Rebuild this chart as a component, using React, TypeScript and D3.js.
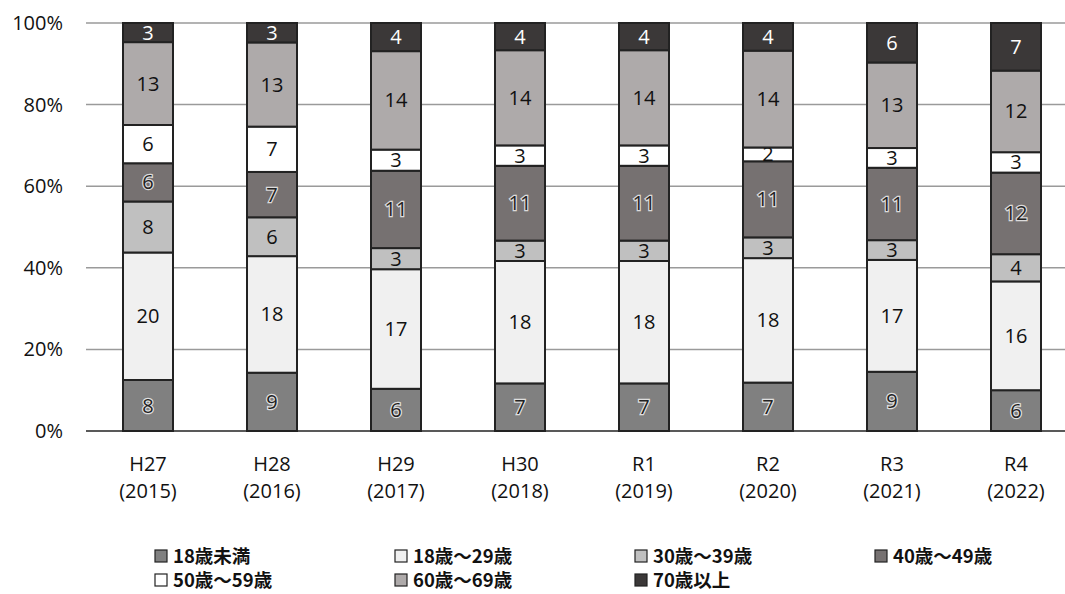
import * as d3 from 'd3';
import { useEffect, useRef } from 'react';

const eras = ['H27', 'H28', 'H29', 'H30', 'R1', 'R2', 'R3', 'R4'];
const years = ['(2015)', '(2016)', '(2017)', '(2018)', '(2019)', '(2020)', '(2021)', '(2022)'];

const groups = ['18歳未満', '18歳～29歳', '30歳～39歳', '40歳～49歳', '50歳～59歳', '60歳～69歳', '70歳以上'];
const under18 = [8, 9, 6, 7, 7, 7, 9, 6];
const age18to29 = [20, 18, 17, 18, 18, 18, 17, 16];
const age30s = [8, 6, 3, 3, 3, 3, 3, 4];
const age40s = [6, 7, 11, 11, 11, 11, 11, 12];
const age50s = [6, 7, 3, 3, 3, 2, 3, 3];
const age60s = [13, 13, 14, 14, 14, 14, 13, 12];
const over70 = [3, 3, 4, 4, 4, 4, 6, 7];

const fills = ['#808080', '#f0f0f0', '#c0c0c0', '#767171', '#ffffff', '#aeaaaa', '#3b3838'];
const labelColors = ['#222', '#111', '#111', '#222', '#111', '#111', '#ffffff'];
const haloed = [true, false, false, true, false, false, false];
const yTicks = [0, 0.2, 0.4, 0.6, 0.8, 1];

const FONT = '"Open Sans", "Noto Sans CJK JP", sans-serif';
const FS = 20;

export default function App() {
  const ref = useRef<SVGSVGElement>(null);

  useEffect(() => {
    const svg = d3.select(ref.current);
    svg.selectAll('*').remove();

    const series = [under18, age18to29, age30s, age40s, age50s, age60s, over70];
    const rows = eras.map((era, i) => {
      const row: any = { era };
      groups.forEach((g, k) => (row[g] = series[k][i]));
      return row;
    });

    const stack = d3.stack<any>().keys(groups).offset(d3.stackOffsetExpand);
    const layers = stack(rows);

    const x = d3.scaleBand().domain(eras).range([86, 1078]).paddingInner(0.6).paddingOuter(0.3);
    const y = d3.scaleLinear().domain([0, 1]).range([431, 23]);

    // gridlines
    svg.append('g')
      .selectAll('line')
      .data(yTicks)
      .enter()
      .append('line')
      .attr('x1', 86)
      .attr('x2', 1065)
      .attr('y1', (d) => y(d))
      .attr('y2', (d) => y(d))
      .attr('stroke', (d) => (d === 0 ? '#222' : '#9a9a9a'))
      .attr('stroke-width', 1.5);

    svg.append('g')
      .selectAll('text')
      .data(yTicks)
      .enter()
      .append('text')
      .attr('x', 63)
      .attr('y', (d) => y(d) + 7)
      .attr('text-anchor', 'end')
      .attr('font-family', FONT)
      .attr('font-size', FS)
      .attr('fill', '#111')
      .text((d) => `${Math.round(d * 100)}%`);

    const bw = 50;
    layers.forEach((layer, k) => {
      const g = svg.append('g');
      g.selectAll('rect')
        .data(layer)
        .enter()
        .append('rect')
        .attr('x', (d: any) => (x(d.data.era) || 0) + x.bandwidth() / 2 - bw / 2)
        .attr('y', (d) => y(d[1]))
        .attr('width', bw)
        .attr('height', (d) => y(d[0]) - y(d[1]))
        .attr('fill', fills[k])
        .attr('stroke', '#222')
        .attr('stroke-width', 2);

      g.selectAll('text')
        .data(layer)
        .enter()
        .append('text')
        .attr('x', (d: any) => (x(d.data.era) || 0) + x.bandwidth() / 2)
        .attr('y', (d) => (y(d[0]) + y(d[1])) / 2 + 7)
        .attr('text-anchor', 'middle')
        .attr('font-family', FONT)
        .attr('font-size', FS)
        .attr('fill', labelColors[k])
        .attr('stroke', haloed[k] ? 'rgba(255,255,255,0.75)' : 'none')
        .attr('stroke-width', haloed[k] ? 2.5 : 0)
        .attr('paint-order', 'stroke')
        .text((d: any) => d.data[groups[k]]);
    });

    // x labels
    const xl = svg.append('g');
    eras.forEach((era, i) => {
      const cx = (x(era) || 0) + x.bandwidth() / 2;
      xl.append('text')
        .attr('x', cx)
        .attr('y', 471)
        .attr('text-anchor', 'middle')
        .attr('font-family', FONT)
        .attr('font-size', FS)
        .attr('fill', '#111')
        .text(era);
      xl.append('text')
        .attr('x', cx)
        .attr('y', 498)
        .attr('text-anchor', 'middle')
        .attr('font-family', FONT)
        .attr('font-size', FS)
        .attr('fill', '#111')
        .text(years[i]);
    });

    // legend
    const lg = svg.append('g');
    groups.forEach((g, k) => {
      const col = k % 4;
      const row = Math.floor(k / 4);
      const lx = 155 + col * 240;
      const ly = 550 + row * 24;
      lg.append('rect')
        .attr('x', lx)
        .attr('y', ly)
        .attr('width', 12)
        .attr('height', 12)
        .attr('fill', fills[k])
        .attr('stroke', '#222')
        .attr('stroke-width', 1.2);
      lg.append('text')
        .attr('x', lx + 18)
        .attr('y', ly + 13)
        .attr('font-family', '"Noto Sans CJK JP", sans-serif')
        .attr('font-weight', 'bold')
        .attr('font-size', 18.5)
        .attr('fill', '#111')
        .text(g);
    });
  }, []);

  return <svg ref={ref} width={1065} height={594} style={{ position: 'absolute', left: 0, top: 0 }} />;
}
